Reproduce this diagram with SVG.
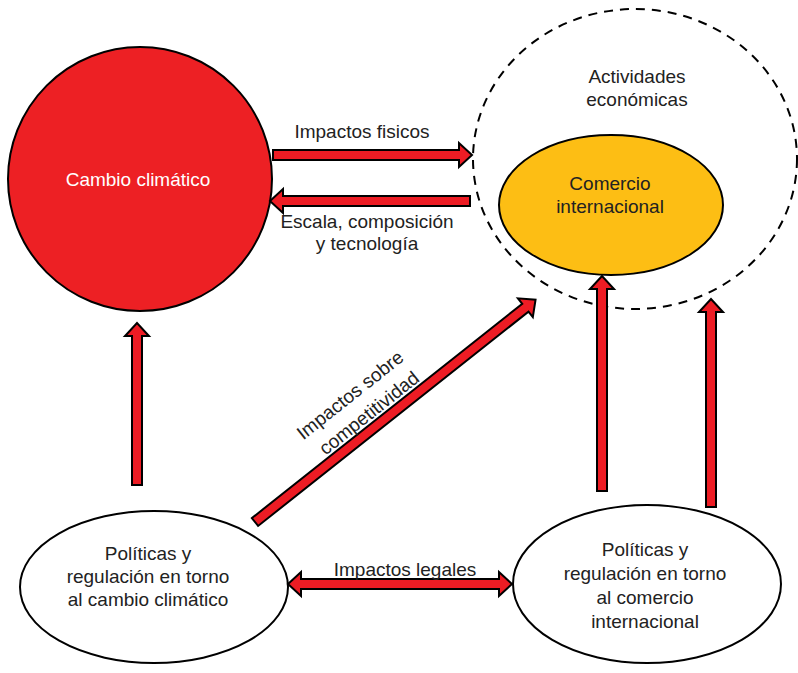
<svg xmlns="http://www.w3.org/2000/svg" width="798" height="673" viewBox="0 0 798 673">
<style>
text{font-family:"Liberation Sans",Arial,sans-serif;font-size:19px;fill:#222;text-anchor:middle;dominant-baseline:central}
.arrow{fill:#ED1C24;stroke:#000;stroke-width:2;stroke-linejoin:miter}
.node{stroke:#000;stroke-width:2}
</style>
<rect width="798" height="673" fill="#fff"/>
<g id="actividades">
<ellipse cx="635" cy="159" rx="162" ry="150" fill="none" stroke="#000" stroke-width="2" stroke-dasharray="9,7"/>
<text x="637" y="76">Actividades</text>
<text x="637" y="99">económicas</text>
</g>
<g id="cambio">
<circle class="node" cx="140" cy="179" r="132" fill="#ED2024"/>
<text x="138" y="179" style="fill:#fff">Cambio climático</text>
</g>
<g id="comercio">
<ellipse class="node" cx="611" cy="205" rx="112" ry="70" fill="#FDBE14"/>
<text x="610" y="183">Comercio</text>
<text x="610" y="206">internacional</text>
</g>
<g id="politicas-cambio">
<ellipse class="node" cx="154" cy="587" rx="134" ry="76" fill="#fff"/>
<text x="148" y="553">Políticas y</text>
<text x="148" y="576">regulación en torno</text>
<text x="148" y="599">al cambio climático</text>
</g>
<g id="politicas-comercio">
<ellipse class="node" cx="647" cy="584" rx="134" ry="79" fill="#fff"/>
<text x="645" y="549">Políticas y</text>
<text x="645" y="573">regulación en torno</text>
<text x="645" y="597">al comercio</text>
<text x="645" y="621">internacional</text>
</g>
<g id="connectors">
<polygon class="arrow" points="273,150 459,150 459,143 472,155 459,167 459,160 273,160"/>
<text x="362" y="131">Impactos fisicos</text>
<polygon class="arrow" points="470,196 283,196 283,189 270,201 283,213 283,206 470,206"/>
<text x="367" y="221">Escala, composición</text>
<text x="367" y="243">y tecnología</text>
<g transform="translate(255,522) rotate(-38.4)">
<polygon class="arrow" points="0,-5 345,-5 345,-12 358,0 345,12 345,5 0,5"/>
</g>
<text transform="translate(350,395) rotate(-38.4)">Impactos sobre</text>
<text transform="translate(369,413) rotate(-38.4)">competitividad</text>
<polygon class="arrow" points="132,485 132,336 125,336 137,323 149,336 142,336 142,485"/>
<polygon class="arrow" points="597,491 597,289 590,289 602,276 614,289 607,289 607,491"/>
<polygon class="arrow" points="706,507 706,312 699,312 711,299 723,312 716,312 716,507"/>
<polygon class="arrow" points="288,584 301,572 301,579 499,579 499,572 512,584 499,596 499,589 301,589 301,596"/>
<text x="405" y="569">Impactos legales</text>
</g>
</svg>
